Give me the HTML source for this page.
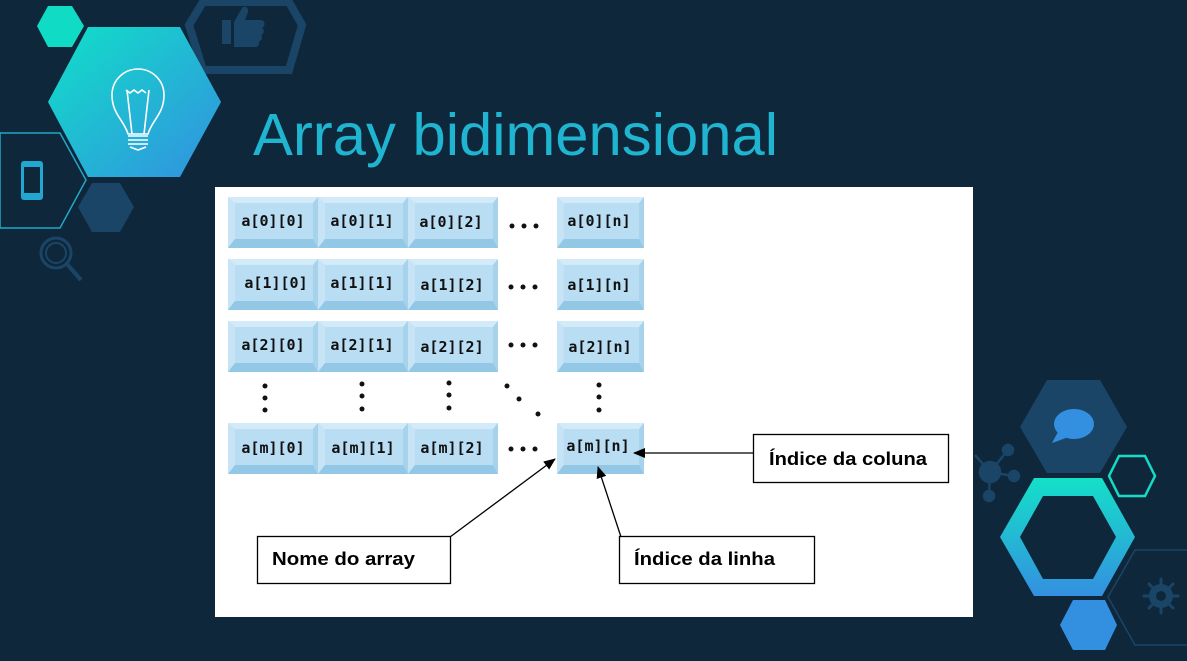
<!DOCTYPE html>
<html><head><meta charset="utf-8"><style>
html,body{margin:0;padding:0;background:#0f273b;}
svg{display:block}
</style></head><body>
<svg width="1187" height="661" viewBox="0 0 1187 661" xmlns="http://www.w3.org/2000/svg">
<defs>
<linearGradient id="g1" x1="0" y1="0" x2="1" y2="1"><stop offset="0" stop-color="#10e0c8"/><stop offset="1" stop-color="#3390e0"/></linearGradient>
<linearGradient id="g2" x1="0" y1="0" x2="0" y2="1"><stop offset="0" stop-color="#14e0c8"/><stop offset="1" stop-color="#3390e0"/></linearGradient>
<symbol id="cell" viewBox="0 0 90 51" preserveAspectRatio="none">
<rect x="0" y="0" width="90" height="51" fill="#b9ddf3"/>
<polygon points="0,0 90,0 85,6 7,6" fill="#d3ebf9"/>
<polygon points="0,0 7,6 7,42 0,51" fill="#c6e4f6"/>
<polygon points="0,51 7,42 85,42 90,51" fill="#92c7e6"/>
<polygon points="90,0 85,6 85,42 90,51" fill="#a6d2ec"/>
</symbol>
<marker id="ar" markerWidth="12" markerHeight="10" refX="11" refY="5" orient="auto" markerUnits="userSpaceOnUse"><path d="M0,0 L12,5 L0,10 z" fill="#000"/></marker>
</defs>

<polygon points="37,26 48,6 72,6 84,26 72,47 48,47" fill="#10dcc6"/>
<polygon points="189,25 203,2 289,2 302,25 289,70 203,70" fill="none" stroke="#1a4566" stroke-width="8"/>
<path d="M222,20 h9 v24 h-9z M234,22 l8,-14 c3,-3 7,0 6,4 l-3,8 h16 c4,0 5,6 1,8 c3,2 2,6 -1,7 c2,2 1,6 -2,6 c1,3 -1,6 -4,6 h-21z" fill="#1a4566"/>
<polygon points="48,102 88,27 180,27 221,102 180,177 88,177" fill="url(#g1)"/>
<g fill="none" stroke="#fff" stroke-width="1.6">
<path d="M128,134 c-4,-14 -16,-20 -16,-39 a26,26 0 0 1 52,0 c0,19 -12,25 -16,39z"/>
<path d="M126,90 l4,3 4,-3 4,3 4,-3 4,3 M127,90 l5,44 M149,90 l-5,44"/>
<path d="M128,136 h20 M128,140 h20 M128,144 h20 M130,147 l8,3 8,-3"/>
</g>
<polygon points="0,133 60,133 86,180 60,228 0,228" fill="none" stroke="#1fa8c8" stroke-width="1.5"/>
<rect x="21" y="161" width="22" height="39" rx="3" fill="#22a8d0"/>
<rect x="24" y="167" width="16" height="26" fill="#0f273b"/>
<polygon points="78,207 92,183 120,183 134,207 120,232 92,232" fill="#1a4566"/>
<circle cx="56" cy="253" r="15" fill="none" stroke="#1a4566" stroke-width="3"/>
<circle cx="56" cy="253" r="10" fill="none" stroke="#1a4566" stroke-width="2"/>
<line x1="67" y1="264" x2="81" y2="280" stroke="#1a4566" stroke-width="4"/>

<text x="253" y="155" font-family="Liberation Sans, sans-serif" font-size="59" fill="#1fb4d0" textLength="525" lengthAdjust="spacingAndGlyphs">Array bidimensional</text>

<polygon points="1020,427 1047,380 1100,380 1127,427 1100,473 1047,473" fill="#1a4566"/>
<ellipse cx="1074" cy="424" rx="20" ry="15" fill="#3390e0"/>
<path d="M1058,432 l-6,11 l14,-5z" fill="#3390e0"/>
<polygon points="1109,476 1119,456 1145,456 1155,476 1145,496 1119,496" fill="none" stroke="#14dcc6" stroke-width="2.5"/>
<path d="M1000,537 L1034,478 L1102,478 L1135,537 L1102,596 L1034,596 Z M1020,537 L1043,496 L1093,496 L1116,537 L1093,579 L1043,579 Z" fill="url(#g2)" fill-rule="evenodd"/>
<polygon points="1060,625 1073,600 1105,600 1117,625 1105,650 1073,650" fill="#3390e0"/>
<polygon points="1108,597 1135,550 1190,550 1190,645 1135,645" fill="none" stroke="#1a4566" stroke-width="1.5"/>
<circle cx="1161" cy="596" r="12" fill="#1a4566"/><circle cx="1161" cy="596" r="5" fill="#0f273b"/>
<g stroke="#1a4566" stroke-width="3" stroke-linecap="round"><path d="M1161,579 v6 M1161,607 v6 M1144,596 h6 M1172,596 h6 M1149,584 l4,4 M1169,604 l4,4 M1173,584 l-4,4 M1153,604 l-4,4"/></g>
<g fill="#1a4566" stroke="#1a4566" stroke-width="2.5">
<circle cx="990" cy="472" r="10"/><line x1="990" y1="472" x2="1008" y2="450"/><circle cx="1008" cy="450" r="5"/>
<line x1="990" y1="472" x2="1014" y2="476"/><circle cx="1014" cy="476" r="5"/>
<line x1="990" y1="472" x2="989" y2="495"/><circle cx="989" cy="496" r="5"/>
<line x1="990" y1="472" x2="975" y2="455"/>
</g>

<rect x="215" y="187" width="758" height="430" fill="#fff"/>

<g>
<use href="#cell" x="228" y="197" width="90" height="51"/><use href="#cell" x="318" y="197" width="90" height="51"/><use href="#cell" x="408" y="197" width="90" height="51"/><use href="#cell" x="557" y="197" width="87" height="51"/>
<use href="#cell" x="228" y="259" width="90" height="51"/><use href="#cell" x="318" y="259" width="90" height="51"/><use href="#cell" x="408" y="259" width="90" height="51"/><use href="#cell" x="557" y="259" width="87" height="51"/>
<use href="#cell" x="228" y="321" width="90" height="51"/><use href="#cell" x="318" y="321" width="90" height="51"/><use href="#cell" x="408" y="321" width="90" height="51"/><use href="#cell" x="557" y="321" width="87" height="51"/>
<use href="#cell" x="228" y="423" width="90" height="51"/><use href="#cell" x="318" y="423" width="90" height="51"/><use href="#cell" x="408" y="423" width="90" height="51"/><use href="#cell" x="557" y="423" width="87" height="51"/>
</g>
<g font-family="DejaVu Sans Mono, Liberation Mono, monospace" font-weight="bold" font-size="15" fill="#111" text-anchor="middle">
<text x="273" y="226">a[0][0]</text><text x="362" y="226">a[0][1]</text><text x="451" y="227">a[0][2]</text><text x="599" y="226">a[0][n]</text>
<text x="276" y="288">a[1][0]</text><text x="362" y="288">a[1][1]</text><text x="452" y="290">a[1][2]</text><text x="599" y="290">a[1][n]</text>
<text x="273" y="350">a[2][0]</text><text x="362" y="350">a[2][1]</text><text x="452" y="352">a[2][2]</text><text x="600" y="352">a[2][n]</text>
<text x="273" y="453">a[m][0]</text><text x="363" y="453">a[m][1]</text><text x="452" y="453">a[m][2]</text><text x="598" y="451">a[m][n]</text>
</g>
<g fill="#111">
<circle cx="512" cy="226" r="2.5"/><circle cx="524" cy="226" r="2.5"/><circle cx="536" cy="226" r="2.5"/>
<circle cx="511" cy="287" r="2.5"/><circle cx="523" cy="287" r="2.5"/><circle cx="535" cy="287" r="2.5"/>
<circle cx="511" cy="345" r="2.5"/><circle cx="523" cy="345" r="2.5"/><circle cx="535" cy="345" r="2.5"/>
<circle cx="511" cy="449" r="2.5"/><circle cx="523" cy="449" r="2.5"/><circle cx="535" cy="449" r="2.5"/>
<circle cx="265" cy="386" r="2.5"/><circle cx="265" cy="398" r="2.5"/><circle cx="265" cy="410" r="2.5"/>
<circle cx="362" cy="384" r="2.5"/><circle cx="362" cy="396" r="2.5"/><circle cx="362" cy="409" r="2.5"/>
<circle cx="449" cy="383" r="2.5"/><circle cx="449" cy="395" r="2.5"/><circle cx="449" cy="408" r="2.5"/>
<circle cx="507" cy="386" r="2.5"/><circle cx="519" cy="399" r="2.5"/><circle cx="538" cy="414" r="2.5"/>
<circle cx="599" cy="385" r="2.5"/><circle cx="599" cy="397" r="2.5"/><circle cx="599" cy="410" r="2.5"/>
</g>
<g stroke="#000" stroke-width="1.3" fill="none">
<line x1="753" y1="453" x2="634" y2="453" marker-end="url(#ar)"/>
<line x1="450" y1="537" x2="555" y2="459" marker-end="url(#ar)"/>
<line x1="621" y1="537" x2="598" y2="467" marker-end="url(#ar)"/>
<rect x="753.5" y="434.5" width="195" height="48"/>
<rect x="257.5" y="536.5" width="193" height="47"/>
<rect x="619.5" y="536.5" width="195" height="47"/>
</g>
<g font-family="Liberation Sans, sans-serif" font-weight="bold" font-size="18" fill="#000">
<text x="769" y="465" textLength="158" lengthAdjust="spacingAndGlyphs">Índice da coluna</text>
<text x="272" y="565" textLength="143" lengthAdjust="spacingAndGlyphs">Nome do array</text>
<text x="634" y="565" textLength="141" lengthAdjust="spacingAndGlyphs">Índice da linha</text>
</g>
</svg>
</body></html>
